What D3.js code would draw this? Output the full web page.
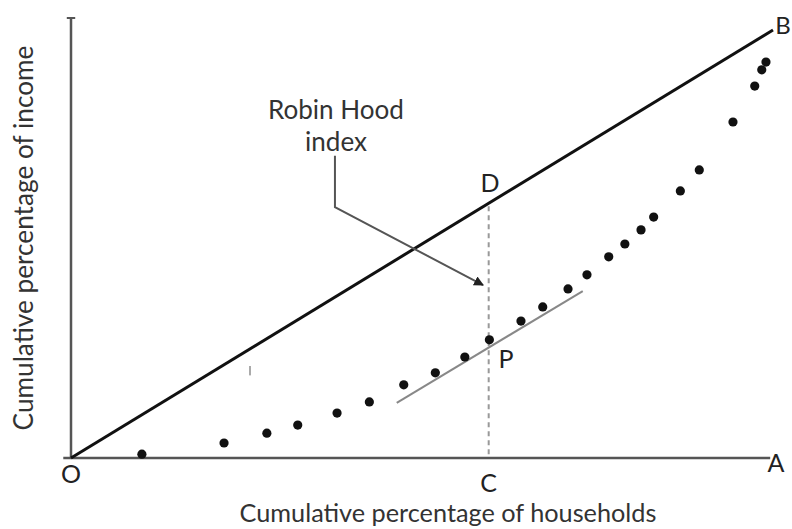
<!DOCTYPE html>
<html><head><meta charset="utf-8">
<script src="https://cdn.jsdelivr.net/npm/d3@7"></script>
<style>html,body{margin:0;padding:0;background:#fff;}svg{display:block;}</style>
</head><body><svg id="c" width="792" height="529"></svg>
<script>
// Data: cumulative % of households (x) vs cumulative % of income (y)
const households = [10.1, 21.8, 27.9, 32.3, 37.9, 42.5, 47.4, 51.9, 56.1, 59.6, 64.1, 67.2, 70.8, 73.5, 76.6, 78.9, 81.2, 83.0, 86.8, 89.5, 94.3, 97.4, 98.4, 99.0];
const income     = [0.9, 3.5, 5.8, 7.7, 10.5, 13.1, 17.1, 19.9, 23.6, 27.6, 32.0, 35.3, 39.5, 42.8, 47.0, 50.0, 53.3, 56.3, 62.4, 67.3, 78.5, 86.9, 90.7, 92.5];
const equalityLine = [[0, 0], [100, 100]];
const tangentLine = [[46.4, 12.9], [72.9, 39.0]];
const pointC = 59.5;
const xTitle = "Cumulative percentage of households";
const yTitle = "Cumulative percentage of income";
const annotation = ["Robin Hood", "index"];

const svg = d3.select("#c");
const x = d3.scaleLinear().domain([0, 100]).range([71, 773]);
const y = d3.scaleLinear().domain([0, 100]).range([458, 30]);
const line = d3.line().x(d => x(d[0])).y(d => y(d[1]));
const font = "Lato, 'Open Sans', sans-serif";

// axes
svg.append("line").attr("x1", x(-1.1)).attr("x2", x(99.6)).attr("y1", y(0)).attr("y2", y(0))
  .attr("stroke", "#555").attr("stroke-width", 2.5);
svg.append("line").attr("x1", x(0)).attr("x2", x(0)).attr("y1", y(0)).attr("y2", y(102.8))
  .attr("stroke", "#555").attr("stroke-width", 2.5);
svg.append("line").attr("x1", x(-0.6)).attr("x2", x(0.6)).attr("y1", y(102.8)).attr("y2", y(102.8))
  .attr("stroke", "#555").attr("stroke-width", 2);

// line of equality O-B
svg.append("path").datum(equalityLine).attr("d", line)
  .attr("fill", "none").attr("stroke", "#111").attr("stroke-width", 3);

// dashed C-D
svg.append("line").attr("x1", x(pointC)).attr("x2", x(pointC))
  .attr("y1", y(pointC) + 3).attr("y2", y(0))
  .attr("stroke", "#999").attr("stroke-width", 2).attr("stroke-dasharray", "5,4");

// tangent line
svg.append("path").datum(tangentLine).attr("d", line)
  .attr("fill", "none").attr("stroke", "#888").attr("stroke-width", 2);

// dots
svg.selectAll("circle.d").data(households.map((h, i) => [h, income[i]])).join("circle")
  .attr("class", "d").attr("cx", d => x(d[0])).attr("cy", d => y(d[1])).attr("r", 4.6)
  .attr("fill", "#111");

// stray mark
svg.append("line").attr("x1", x(25.5)).attr("x2", x(25.5)).attr("y1", y(21.5)).attr("y2", y(19.3))
  .attr("stroke", "#aaa").attr("stroke-width", 2);

// leader with arrow
const defs = svg.append("defs");
defs.append("marker").attr("id", "arr").attr("viewBox", "0 0 10 10").attr("refX", 9).attr("refY", 5)
  .attr("markerWidth", 5).attr("markerHeight", 5).attr("orient", "auto")
  .append("path").attr("d", "M0,0 L10,5 L0,10 z").attr("fill", "#222");
svg.append("path").datum([[37.6, 70.6], [37.6, 58.6], [58.7, 40.4]]).attr("d", line)
  .attr("fill", "none").attr("stroke", "#555").attr("stroke-width", 2).attr("marker-end", "url(#arr)");

function fit(sel, target, base) {
  const w = sel.node().getComputedTextLength();
  sel.attr("font-size", base * target / w);
}

// annotation text
const a1 = svg.append("text").attr("x", 336).attr("y", 119).attr("text-anchor", "middle")
  .attr("font-family", font).attr("font-size", 24).attr("fill", "#333").text(annotation[0]);
fit(a1, 136, 24);
const a2 = svg.append("text").attr("x", 336).attr("y", 151).attr("text-anchor", "middle")
  .attr("font-family", font).attr("font-size", 24).attr("fill", "#333").text(annotation[1]);
fit(a2, 62, 24);

// point labels
const lbl = (t, px, py, fs) => svg.append("text").attr("x", px).attr("y", py).attr("text-anchor", "middle")
  .attr("font-family", font).attr("font-size", fs || 25).attr("fill", "#222").text(t);
lbl("O", x(0), 483);
lbl("C", x(pointC), 492);
lbl("A", 776, 472);
lbl("B", 783, 34, 24);
lbl("D", 490, 192);
lbl("P", 506, 368);

// axis titles, fitted to measured widths
const xt = svg.append("text").attr("x", 448).attr("y", 522).attr("text-anchor", "middle")
  .attr("font-family", font).attr("font-size", 24).attr("fill", "#333").text(xTitle);
fit(xt, 417, 24);
const yt = svg.append("text").attr("transform", "translate(33,238) rotate(-90)").attr("text-anchor", "middle")
  .attr("font-family", font).attr("font-size", 24).attr("fill", "#333").text(yTitle);
fit(yt, 385, 24);
</script></body></html>
